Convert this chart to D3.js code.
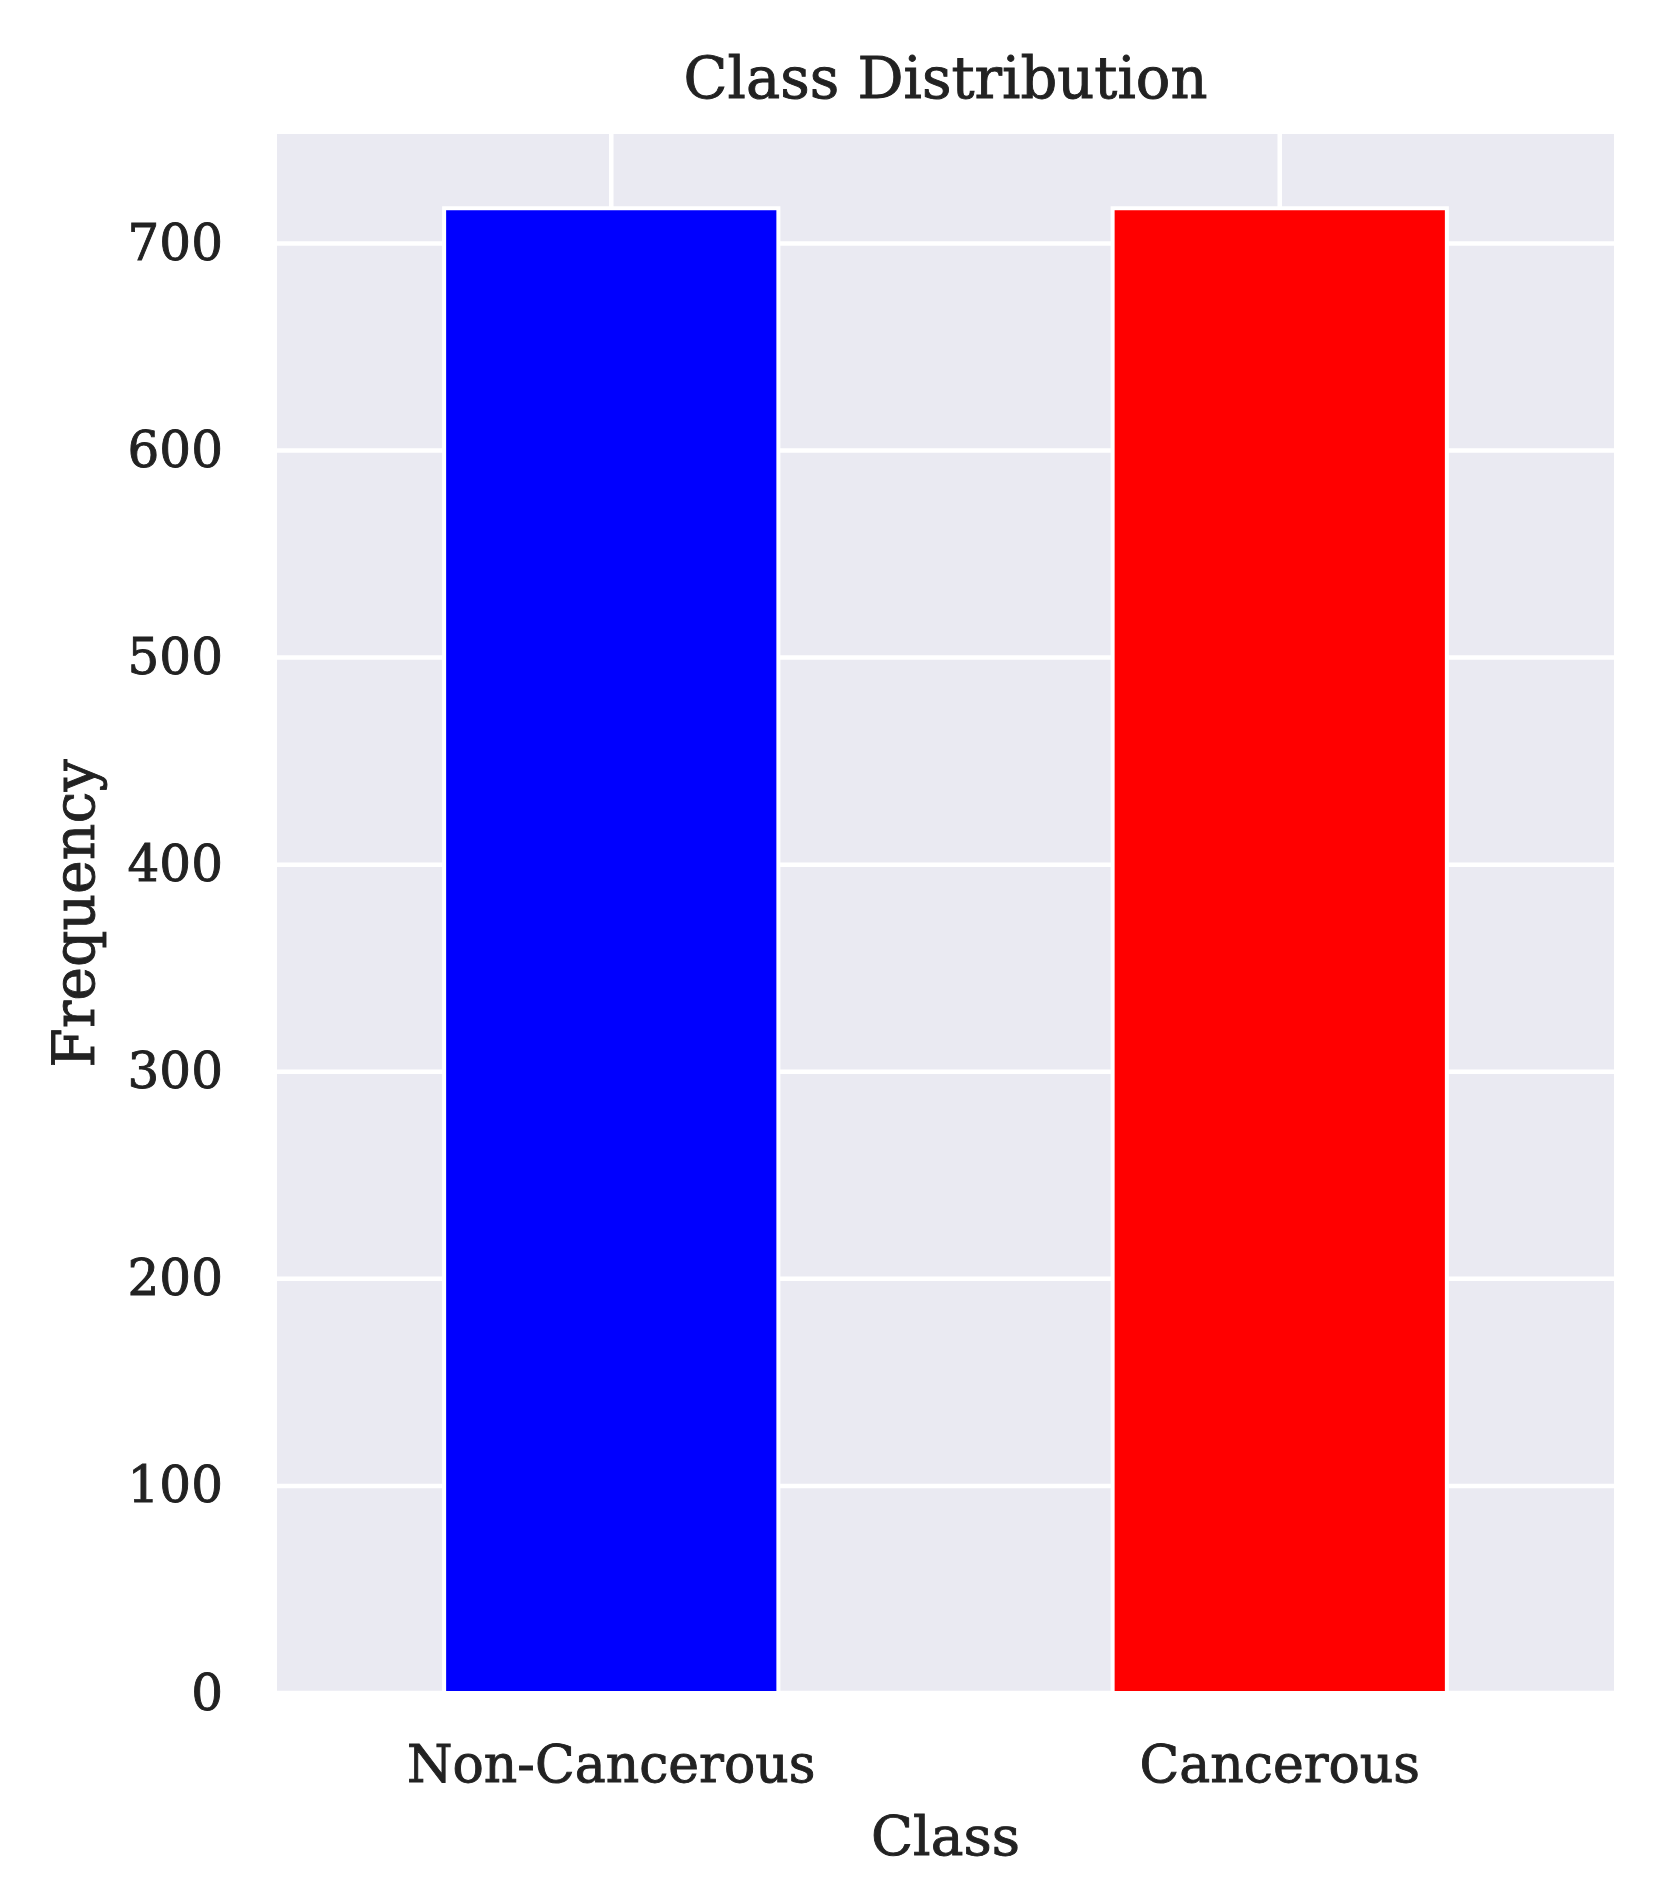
<!DOCTYPE html>
<html>
<head>
<meta charset="utf-8">
<script src="https://cdn.jsdelivr.net/npm/d3@7"></script>
<style>
  html, body { margin: 0; padding: 0; background: #ffffff; }
  svg { display: block; }
  text { font-family: "DejaVu Serif", serif; fill: #222222; stroke: #222222; stroke-width: 0.9px; }
</style>
</head>
<body>
<svg id="chart" width="1660" height="1889"></svg>
<script>
const categories = ["Non-Cancerous", "Cancerous"];
const counts = [717, 717];
const barColors = ["#0000ff", "#ff0000"];
const yTicks = [0, 100, 200, 300, 400, 500, 600, 700];
const titleText = "Class Distribution";
const xLabelText = "Class";
const yLabelText = "Frequency";

const W = 1660, H = 1889;
const plot = { left: 277, right: 1614, top: 134, bottom: 1693 };

const svg = d3.select("#chart");

const x = d3.scaleBand()
  .domain(categories)
  .range([plot.left, plot.right])
  .paddingInner(0.5)
  .paddingOuter(0.25);

const y = d3.scaleLinear()
  .domain([0, d3.max(counts) * 1.05])
  .range([plot.bottom, plot.top]);

// background
svg.append("rect")
  .attr("x", plot.left).attr("y", plot.top)
  .attr("width", plot.right - plot.left)
  .attr("height", plot.bottom - plot.top)
  .attr("fill", "#eaeaf2");

// grid
const grid = svg.append("g");
grid.selectAll("line.h").data(yTicks).join("line")
  .attr("x1", plot.left).attr("x2", plot.right)
  .attr("y1", d => y(d)).attr("y2", d => y(d))
  .attr("stroke", "#ffffff").attr("stroke-width", 4.5);
grid.selectAll("line.v").data(categories).join("line")
  .attr("y1", plot.top).attr("y2", plot.bottom)
  .attr("x1", d => x(d) + x.bandwidth() / 2).attr("x2", d => x(d) + x.bandwidth() / 2)
  .attr("stroke", "#ffffff").attr("stroke-width", 4.5);

// bars
svg.append("g").selectAll("rect").data(categories).join("rect")
  .attr("x", d => x(d))
  .attr("y", (d, i) => y(counts[i]))
  .attr("width", x.bandwidth())
  .attr("height", (d, i) => y(0) - y(counts[i]))
  .attr("fill", (d, i) => barColors[i])
  .attr("stroke", "#ffffff")
  .attr("stroke-width", 4);

// y axis
const yAxis = d3.axisLeft(y).tickValues(yTicks).tickSize(0).tickPadding(54);
const yg = svg.append("g").attr("transform", `translate(${plot.left},0)`).call(yAxis);
yg.select(".domain").remove();
yg.selectAll("text")
  .attr("font-size", 50)
  .attr("font-family", "DejaVu Serif, serif")
  .attr("fill", "#222222");

// x axis
const xAxis = d3.axisBottom(x).tickSize(0).tickPadding(52);
const xg = svg.append("g").attr("transform", `translate(0,${plot.bottom})`).call(xAxis);
xg.select(".domain").remove();
xg.selectAll("text")
  .attr("font-size", 52)
  .attr("font-family", "DejaVu Serif, serif")
  .attr("fill", "#222222");

// title
svg.append("text")
  .attr("x", (plot.left + plot.right) / 2)
  .attr("y", 98)
  .attr("text-anchor", "middle")
  .attr("font-size", 57.5)
  .text(titleText);

// x label
svg.append("text")
  .attr("x", (plot.left + plot.right) / 2)
  .attr("y", 1855)
  .attr("text-anchor", "middle")
  .attr("font-size", 55)
  .text(xLabelText);

// y label
svg.append("text")
  .attr("transform", `translate(94,${(plot.top + plot.bottom) / 2}) rotate(-90)`)
  .attr("text-anchor", "middle")
  .attr("font-size", 57)
  .text(yLabelText);
</script>
</body>
</html>
